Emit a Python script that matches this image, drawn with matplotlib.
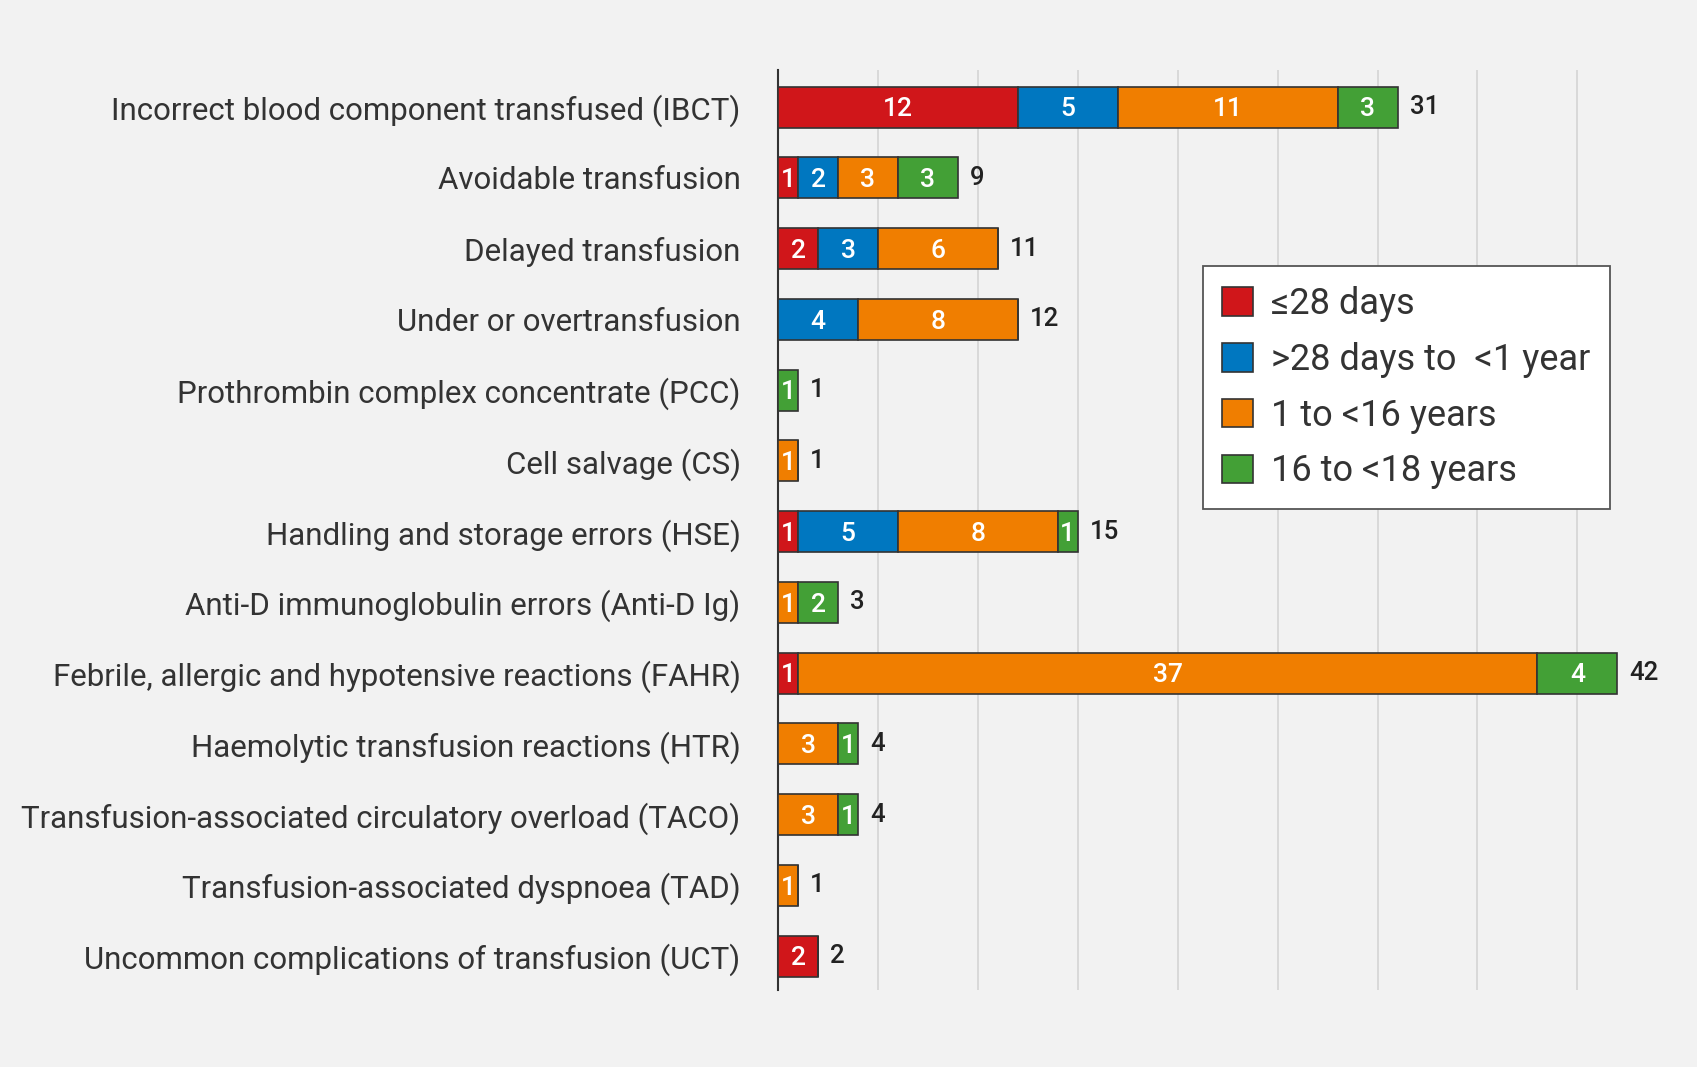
import numpy as np
import matplotlib.pyplot as plt

# categories (top to bottom)
categories = [
    'Incorrect blood component transfused (IBCT)',
    'Avoidable transfusion',
    'Delayed transfusion',
    'Under or overtransfusion',
    'Prothrombin complex concentrate (PCC)',
    'Cell salvage (CS)',
    'Handling and storage errors (HSE)',
    'Anti-D immunoglobulin errors (Anti-D Ig)',
    'Febrile, allergic and hypotensive reactions (FAHR)',
    'Haemolytic transfusion reactions (HTR)',
    'Transfusion-associated circulatory overload (TACO)',
    'Transfusion-associated dyspnoea (TAD)',
    'Uncommon complications of transfusion (UCT)',
]
series_names = ['≤28 days', '>28 days to  <1 year', '1 to <16 years', '16 to <18 years']
neonate  = [12, 1, 2, 0, 0, 0, 1, 0, 1, 0, 0, 0, 2]
infant   = [5, 2, 3, 4, 0, 0, 5, 0, 0, 0, 0, 0, 0]
child    = [11, 3, 6, 8, 0, 1, 8, 1, 37, 3, 3, 1, 0]
teen     = [3, 3, 0, 0, 1, 0, 1, 2, 4, 1, 1, 0, 0]
colors = ['#D0161A', '#0077C0', '#F07E00', '#43A036']

data = np.array([neonate, infant, child, teen], dtype=float)
totals = data.sum(axis=0)
y = np.arange(len(categories))

fig = plt.figure(figsize=(16.97, 10.67), dpi=100, facecolor='#F2F2F2')
ax = fig.add_axes([0.4585, 0.072, 0.524, 0.862], facecolor='#F2F2F2')

left = np.zeros(len(categories))
for vals, col, name in zip(data, colors, series_names):
    ax.barh(y, vals, left=left, height=0.58, color=col,
            edgecolor='#333333', linewidth=1.2, label=name, zorder=3)
    for yi, v, l in zip(y, vals, left):
        if v > 0:
            ax.text(l + v / 2, yi + 0.03, f'{int(v)}', ha='center', va='center',
                    color='white', fontsize=19, family='Roboto',
                    fontweight='medium', zorder=4)
    left += vals

for yi, t in zip(y, totals):
    ax.text(t + 0.6, yi, f'{int(t)}', ha='left', va='center',
            color='#222222', fontsize=18.5, family='Roboto', fontweight='medium')

ax.set_xlim(0, 44.5)
ax.set_ylim(12.48, -0.52)
ax.set_xticks(np.arange(5, 45, 5))
ax.set_xticklabels([])
ax.tick_params(axis='x', length=0)
ax.grid(axis='x', color='#D4D4D4', linewidth=1.2, zorder=0)
ax.set_yticks(y)
ax.set_yticklabels(categories, fontsize=22.5, color='#333333', family='Roboto',
                   fontweight='normal')
ax.tick_params(axis='y', length=0, pad=27)
for s in ['top', 'right', 'bottom']:
    ax.spines[s].set_visible(False)
ax.spines['left'].set_color('#333333')
ax.spines['left'].set_linewidth(1.5)

leg = ax.legend(loc='upper left', bbox_to_anchor=(0.457, 0.807),
                prop={'family': 'Roboto', 'weight': 'normal', 'size': 26},
                frameon=True, fancybox=False, edgecolor='#555555',
                handlelength=0.85, handleheight=0.85, handletextpad=0.5,
                labelspacing=0.55, borderpad=0.55)
leg.get_frame().set_linewidth(1.3)
leg.get_frame().set_alpha(1)
for t in leg.get_texts():
    t.set_color('#333333')

fig.savefig('out.png', dpi=100, facecolor=fig.get_facecolor())
